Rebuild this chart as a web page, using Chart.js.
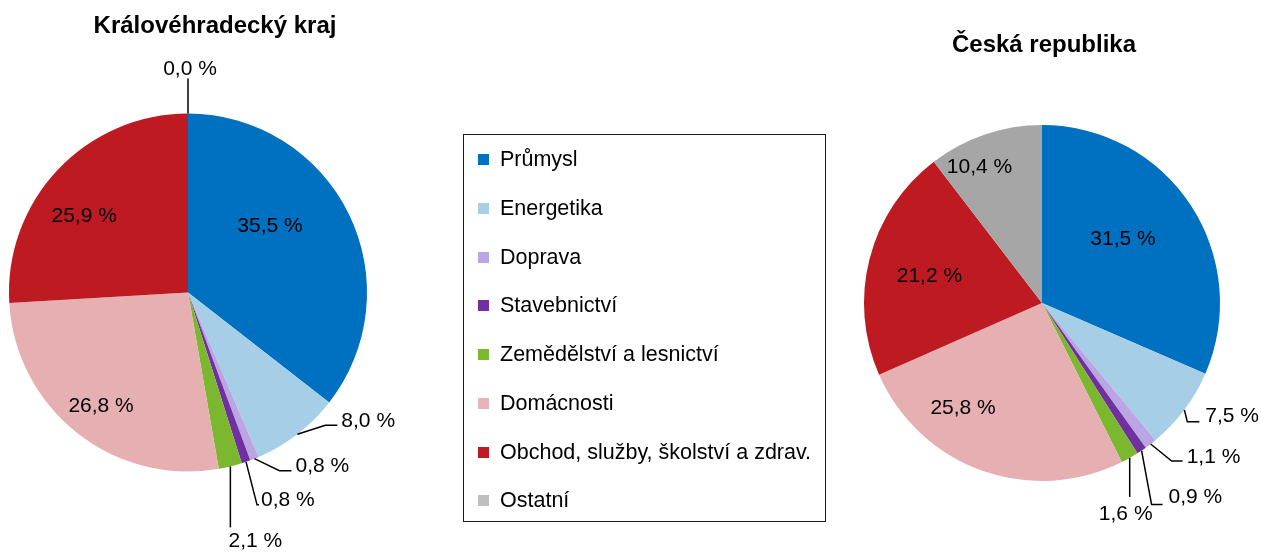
<!DOCTYPE html>
<html>
<head>
<meta charset="utf-8">
<script src="https://cdn.jsdelivr.net/npm/chart.js@4.4.0/dist/chart.umd.min.js"></script>
<style>
  html, body { margin: 0; padding: 0; background: #fff; }
  #page { position: relative; width: 1261px; height: 554px; overflow: hidden; font-family: "Liberation Sans", Arial, sans-serif; }
  #page canvas { position: absolute; left: 0; top: 0; }
  #legend { position: absolute; left: 463px; top: 134px; width: 361px; height: 386px; border: 1.5px solid #1a1a1a; }
  .item { position: absolute; left: 0; height: 24px; line-height: 24px; font-size: 21.5px; color: #000; white-space: nowrap; }
  .item i { position: absolute; left: 14px; top: 7px; width: 11px; height: 11px; }
  .item span { position: absolute; left: 36px; top: 0; }
</style>
</head>
<body>
<div id="page">
  <canvas id="kraj" width="1261" height="554"></canvas>
  <canvas id="cr" width="1261" height="554"></canvas>
  <div id="legend"></div>
</div>
<script>
const categories = ["Průmysl", "Energetika", "Doprava", "Stavebnictví",
  "Zemědělství a lesnictví", "Domácnosti", "Obchod, služby, školství a zdrav.", "Ostatní"];
const krajValues = [35.5, 8.0, 0.8, 0.8, 2.1, 26.8, 25.9, 0.0];
const crValues = [31.5, 7.5, 1.1, 0.9, 1.6, 25.8, 21.2, 10.4];
const colors = ["#0070C0", "#A6CEE6", "#BBA5E3", "#7030A0", "#7CB82F", "#E6AFB2", "#BE1A22", "#A6A6A6"];
const legendColors = ["#0070C0", "#A6CEE6", "#BBA5E3", "#7030A0", "#7CB82F", "#EAB4B7", "#BE1A22", "#BFBFBF"];

// label placement: inside labels [radius fraction, angle shift deg],
// outside labels: leader line [elbow dx, dy, tail], text [dx, dy, align]
const krajLayout = {
  inside: { 0: [0.59, -13], 5: [0.8, -1], 6: [0.72, -7] },
  outside: {
    1: { line: [28, -9, 12], text: [4, -4, "left"] },
    2: { line: [25, 12, 12], text: [4, -4, "left"] },
    3: { line: [11, 43, 2], text: [2, -5, "left"] },
    4: { line: [0, 61, 0], text: [25, 14, "center"] },
    7: { line: [0, -35, 0], text: [2, -9, "center"] }
  }
};
const crLayout = {
  inside: { 0: [0.58, -5], 5: [0.74, 17], 6: [0.65, -1], 7: [0.84, -6] },
  outside: {
    1: { line: [3, 12, 12], text: [6, -6, "left"] },
    2: { line: [21, 17, 11], text: [4, -4, "left"] },
    3: { line: [10, 54, 11], text: [6, -7, "left"] },
    4: { line: [0, 39, 0], text: [-4, 17, "center"] }
  }
};

function fmt(v) {
  return v.toFixed(1).replace(".", ",") + " %";
}

const pieLabels = {
  id: "pieLabels",
  afterDatasetsDraw(chart, args, opts) {
    const ctx = chart.ctx;
    const meta = chart.getDatasetMeta(0);
    const values = chart.data.datasets[0].data;
    ctx.save();
    ctx.font = "21px 'Liberation Sans', Arial, sans-serif";
    ctx.fillStyle = "#000";
    ctx.strokeStyle = "#000";
    ctx.lineWidth = 1.5;
    ctx.textBaseline = "middle";
    meta.data.forEach((arc, i) => {
      const mid = (arc.startAngle + arc.endAngle) / 2;
      const r = arc.outerRadius;
      const ins = opts.layout.inside[i];
      const out = opts.layout.outside[i];
      if (ins) {
        const a = mid + ins[1] * Math.PI / 180;
        ctx.textAlign = "center";
        ctx.fillText(fmt(values[i]), arc.x + Math.cos(a) * r * ins[0], arc.y + Math.sin(a) * r * ins[0]);
      } else if (out) {
        const px = arc.x + Math.cos(mid) * r;
        const py = arc.y + Math.sin(mid) * r;
        const ex = px + out.line[0], ey = py + out.line[1];
        const tx = ex + out.line[2];
        ctx.beginPath();
        ctx.moveTo(px, py);
        ctx.lineTo(ex, ey);
        ctx.lineTo(tx, ey);
        ctx.stroke();
        ctx.textAlign = out.text[2];
        ctx.fillText(fmt(values[i]), tx + out.text[0], ey + out.text[1]);
      }
    });
    ctx.font = "bold 24px 'Liberation Sans', Arial, sans-serif";
    ctx.textAlign = "center";
    ctx.textBaseline = "alphabetic";
    ctx.fillText(opts.title, opts.titleX, opts.titleY);
    ctx.restore();
  }
};

function makePie(id, values, padding, layout, title, titleX, titleY) {
  return new Chart(document.getElementById(id), {
    type: "pie",
    data: {
      labels: categories,
      datasets: [{ data: values, backgroundColor: colors, borderWidth: 0 }]
    },
    options: {
      responsive: false,
      animation: false,
      devicePixelRatio: 1,
      layout: { padding: padding },
      events: [],
      plugins: {
        legend: { display: false },
        tooltip: { enabled: false },
        pieLabels: { layout: layout, title: title, titleX: titleX, titleY: titleY }
      }
    },
    plugins: [pieLabels]
  });
}

makePie("kraj", krajValues, { left: 9, right: 894, top: 113.5, bottom: 82.5 },
  krajLayout, "Královéhradecký kraj", 215, 33);
makePie("cr", crValues, { left: 864, right: 41, top: 125, bottom: 73 },
  crLayout, "Česká republika", 1044, 52);

const legend = document.getElementById("legend");
const rowCenters = [24, 73, 122, 170, 219, 268, 317, 365];
categories.forEach((name, i) => {
  const row = document.createElement("div");
  row.className = "item";
  row.style.top = (rowCenters[i] - 12) + "px";
  row.innerHTML = '<i style="background:' + legendColors[i] + '"></i><span>' + name + '</span>';
  legend.appendChild(row);
});
</script>
</body>
</html>
